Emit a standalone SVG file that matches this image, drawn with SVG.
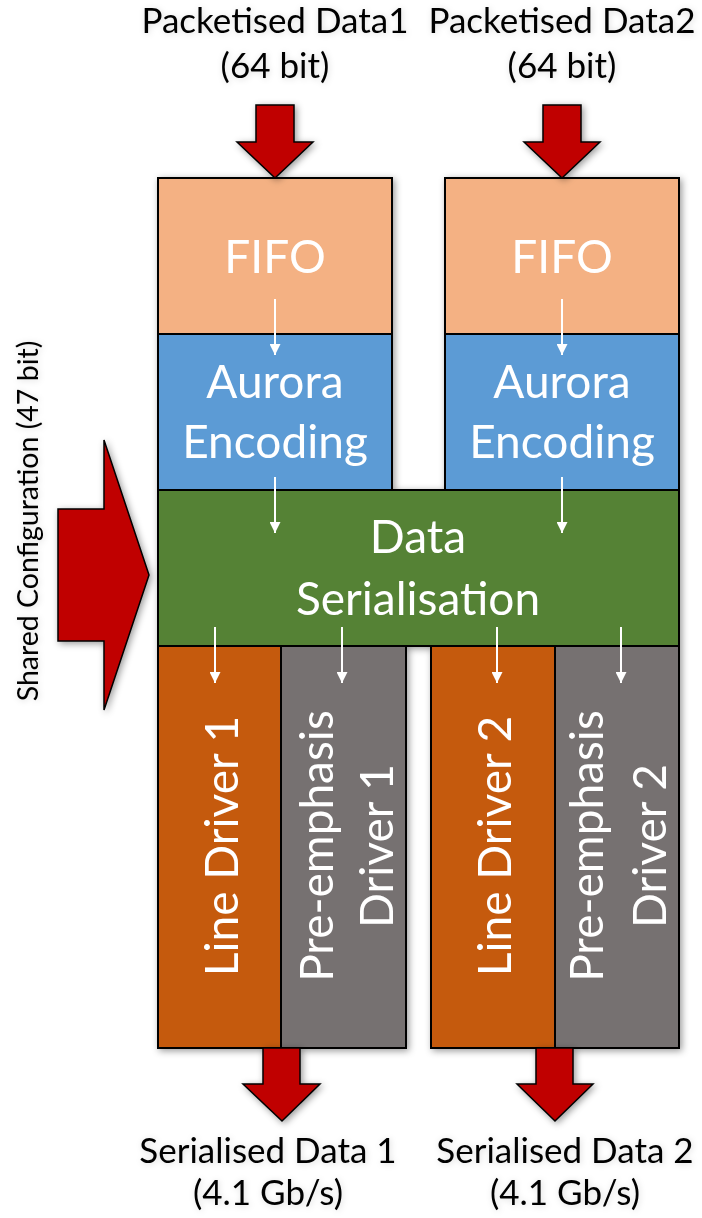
<svg xmlns="http://www.w3.org/2000/svg" width="702" height="1218" viewBox="0 0 702 1218">
<defs>
<style>
.box{stroke:#000;stroke-width:2}
.fifo{fill:#F4B183}
.enc{fill:#5B9BD5}
.ser{fill:#548235}
.ld{fill:#C55A11}
.pe{fill:#767171}
.big{fill:#C00000;stroke:#000;stroke-width:1.5;stroke-linejoin:miter}
.bt{font-family:Lato,"Noto Sans",sans-serif;font-size:46px;fill:#fff;text-anchor:middle}
.lb{font-family:Lato,"Noto Sans",sans-serif;font-size:35px;fill:#000;text-anchor:middle}
.sc{font-family:Lato,"Noto Sans",sans-serif;font-size:28.5px;fill:#000;text-anchor:middle}
.wa{stroke:#fff;stroke-width:2;fill:none}
</style>
<filter id="sh" x="-20%" y="-20%" width="140%" height="140%">
<feDropShadow dx="2" dy="2" stdDeviation="3.5" flood-color="#000" flood-opacity="0.4"/>
</filter>
<filter id="tsh" x="-10%" y="-30%" width="120%" height="160%">
<feDropShadow dx="1" dy="1" stdDeviation="3" flood-color="#000" flood-opacity="0.15"/>
</filter>
<marker id="wh" markerWidth="12" markerHeight="11" refX="11" refY="5.5" orient="auto" markerUnits="userSpaceOnUse">
<path d="M0,0 L11,5.5 L0,11 Z" fill="#fff"/>
</marker>
</defs>

<g id="labels" filter="url(#tsh)">
<g id="in1"><text class="lb" x="275" y="33">Packetised Data1</text><text class="lb" x="275" y="78">(64 bit)</text></g>
<g id="in2"><text class="lb" x="562" y="33">Packetised Data2</text><text class="lb" x="562" y="78">(64 bit)</text></g>
<g id="cfg"><text class="sc" transform="translate(38,521) rotate(-90)">Shared Configuration (47 bit)</text></g>
<g id="out1"><text class="lb" x="268" y="1163">Serialised Data 1</text><text class="lb" x="268" y="1205">(4.1 Gb/s)</text></g>
<g id="out2"><text class="lb" x="565" y="1163">Serialised Data 2</text><text class="lb" x="565" y="1205">(4.1 Gb/s)</text></g>
</g>

<g id="nodes" filter="url(#sh)">
<g id="fifo1"><rect class="box fifo" x="158" y="178" width="234" height="156"/><text class="bt" x="275" y="273">FIFO</text></g>
<g id="fifo2"><rect class="box fifo" x="445" y="178" width="234" height="156"/><text class="bt" x="562" y="273">FIFO</text></g>
<g id="enc1"><rect class="box enc" x="158" y="334" width="234" height="156"/><text class="bt" x="275" y="398">Aurora</text><text class="bt" x="275" y="458">Encoding</text></g>
<g id="enc2"><rect class="box enc" x="445" y="334" width="234" height="156"/><text class="bt" x="562" y="398">Aurora</text><text class="bt" x="562" y="458">Encoding</text></g>
<g id="ser"><rect class="box ser" x="158" y="490" width="521" height="156"/><text class="bt" x="418" y="553">Data</text><text class="bt" x="418" y="615">Serialisation</text></g>
<g id="ld1"><rect class="box ld" x="158" y="646" width="123" height="402"/><text class="bt" transform="translate(238,846) rotate(-90)">Line Driver 1</text></g>
<g id="pe1"><rect class="box pe" x="281" y="646" width="125" height="402"/><text class="bt" transform="translate(333,846) rotate(-90)">Pre-emphasis</text><text class="bt" transform="translate(393,846) rotate(-90)">Driver 1</text></g>
<g id="ld2"><rect class="box ld" x="431" y="646" width="124" height="402"/><text class="bt" transform="translate(511,846) rotate(-90)">Line Driver 2</text></g>
<g id="pe2"><rect class="box pe" x="555" y="646" width="124" height="402"/><text class="bt" transform="translate(603,846) rotate(-90)">Pre-emphasis</text><text class="bt" transform="translate(666,846) rotate(-90)">Driver 2</text></g>
</g>

<g id="connectors">
<g filter="url(#sh)">
<path class="big" d="M256,105 H294 V142 H313 L275,178 L237,142 H256 Z"/>
<path class="big" d="M543,105 H581 V142 H600 L562,178 L524,142 H543 Z"/>
<path class="big" d="M58,509 H104 V440 L149,575 L104,710 V641 H58 Z"/>
<path class="big" d="M263,1048 H300 V1084 H320 L282,1121 L243,1084 H263 Z"/>
<path class="big" d="M536,1048 H573 V1084 H593 L555,1121 L517,1084 H536 Z"/>
</g>
<line class="wa" x1="275" y1="299" x2="275" y2="355" marker-end="url(#wh)"/>
<line class="wa" x1="562" y1="299" x2="562" y2="355" marker-end="url(#wh)"/>
<line class="wa" x1="275" y1="477" x2="275" y2="533" marker-end="url(#wh)"/>
<line class="wa" x1="562" y1="477" x2="562" y2="533" marker-end="url(#wh)"/>
<line class="wa" x1="215" y1="627" x2="215" y2="683" marker-end="url(#wh)"/>
<line class="wa" x1="342" y1="627" x2="342" y2="683" marker-end="url(#wh)"/>
<line class="wa" x1="497" y1="627" x2="497" y2="683" marker-end="url(#wh)"/>
<line class="wa" x1="621" y1="627" x2="621" y2="683" marker-end="url(#wh)"/>
</g>
</svg>
